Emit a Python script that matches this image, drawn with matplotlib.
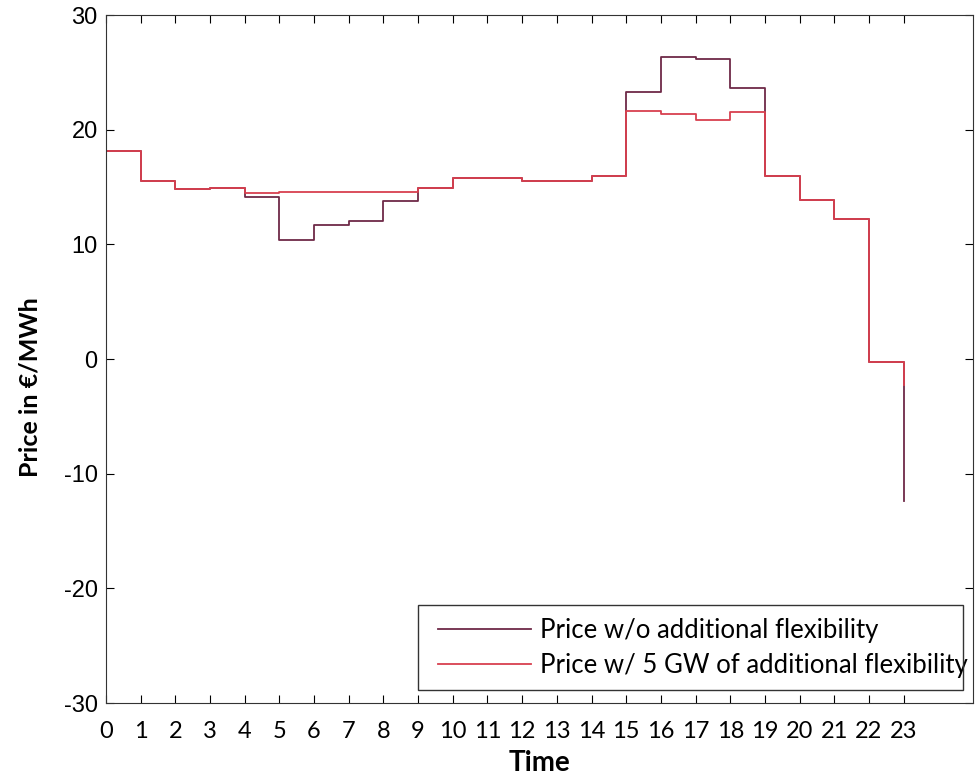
import matplotlib.pyplot as plt
from matplotlib.patches import Rectangle

plt.rcParams["axes.unicode_minus"] = False

hours = list(range(24))
price_base = [18.1, 15.5, 14.8, 14.9, 14.1, 10.4, 11.7, 12.0, 13.8, 14.9,
              15.8, 15.8, 15.5, 15.5, 16.0, 23.3, 26.3, 26.2, 23.6, 16.0,
              13.9, 12.2, -0.3, -12.4]
price_flex = [18.1, 15.5, 14.8, 14.9, 14.5, 14.6, 14.6, 14.6, 14.6, 14.9,
              15.8, 15.8, 15.5, 15.5, 16.0, 21.6, 21.4, 20.8, 21.5, 16.0,
              13.9, 12.2, -0.3, -2.3]
labels = ["Price w/o additional flexibility",
          "Price w/ 5 GW of additional flexibility"]

W, H = 975, 779
fig = plt.figure(figsize=(W / 100, H / 100), dpi=100)
ax = fig.add_axes([106 / W, 1 - 703 / H, (973 - 106) / W, (703 - 15) / H])

ax.step(hours, price_base, where="post", color="#6e2a48", lw=1.3, label=labels[0])
ax.step(hours, price_flex, where="post", color="#d8404f", lw=1.3, label=labels[1])

ax.set_xlim(0, 25)
ax.set_ylim(-30, 30)
ax.set_xticks(hours)
ax.set_xticklabels([str(h) for h in hours], family="Lato", fontsize=17)
ax.set_yticks(range(-30, 31, 10))
ax.set_yticklabels([str(v) for v in range(-30, 31, 10)], family="Liberation Sans", fontsize=17)
ax.tick_params(axis="y", direction="in", right=True, length=6, pad=6)
ax.tick_params(axis="x", direction="in", top=True, length=6, pad=13)

ax.set_xlabel("Time", family="Lato", fontweight="bold", fontsize=20)
ax.xaxis.label.set_va("center")
ax.xaxis.set_label_coords(0.5, (703 - 763) / 688)
ax.set_ylabel("Price in €/MWh", family="Lato", fontweight="bold", fontsize=18)
ax.yaxis.label.set_va("center")
ax.yaxis.set_label_coords((30 - 106) / 867, (703 - 387) / 688)

for s in ax.spines.values():
    s.set_color("#333333")

# legend text overflows its box in the original, so the box is drawn separately
ax.legend(loc="center left", bbox_to_anchor=(438 / W, 1 - 648 / H),
          bbox_transform=fig.transFigure, prop={"family": "Lato", "size": 18.5},
          frameon=False, borderpad=0, borderaxespad=0, handlelength=3.6,
          handletextpad=0.38, labelspacing=0.38)
fig.add_artist(Rectangle((418 / W, 1 - 690 / H), (963 - 418) / W, 85 / H,
                         transform=fig.transFigure, fill=False,
                         edgecolor="#333333", lw=1.0))

fig.savefig("out.png", dpi=100)
